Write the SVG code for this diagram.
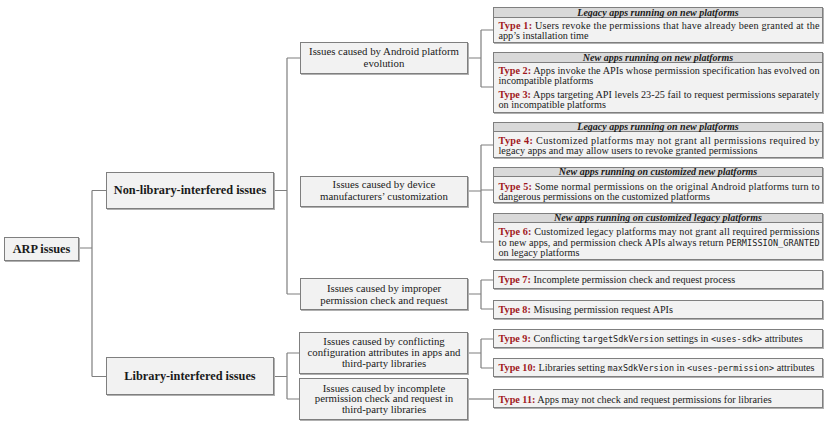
<svg xmlns="http://www.w3.org/2000/svg" width="830" height="427" viewBox="0 0 830 427">
<defs>
<style>
.box{fill:#f2f2f2;stroke:#7f7f7f;stroke-width:1}
.hdr{fill:#d9d9d9;stroke:#7f7f7f;stroke-width:1}
.sh{fill:#b0b0b0}
.c{fill:none;stroke:#7f7f7f;stroke-width:1.2}
text{font-family:"Liberation Serif","Times New Roman",serif;fill:#1a1a1a}
.b1{font-weight:bold;font-size:12.3px}
.l2{font-size:10.8px;text-anchor:middle}
.h{font-weight:bold;font-style:italic;font-size:10px;text-anchor:middle}
.t{font-size:10.2px}
.k{font-weight:bold;fill:#a0171c}
.m{font-family:"DejaVu Sans Mono","Liberation Mono",monospace;font-size:8.5px}
</style>
</defs>
<rect width="830" height="427" fill="#ffffff"/>
<g id="connectors">
<path class="c" d="M79 248H92M92 190.5V376.5M92 190.5H106M92 376.5H106"/>
<path class="c" d="M274 190.5H287M287 58V294M287 58H300M287 294H300"/>
<path class="c" d="M274 376.5H287M287 353V399M287 353H300M287 399H300"/>
<path class="c" d="M468 58H481M481 30V87M481 30H493M481 87H493"/>
<path class="c" d="M468 191H481M481 145V242M481 145H493M481 190H493M481 242H493"/>
<path class="c" d="M468 294H481M481 280V309M481 280H493M481 309H493"/>
<path class="c" d="M468 353H481M481 339V368M481 339H493M481 368H493"/>
<path class="c" d="M468 399H493"/>
</g>
<g id="arp">
<rect class="sh" x="5" y="238" width="75" height="24"/>
<rect class="box" x="4.5" y="237.5" width="74" height="23"/>
<text class="b1" x="41.5" y="252.5" text-anchor="middle" font-size="12.5">ARP issues</text>
</g>
<g id="nonlib">
<rect class="sh" x="107" y="173" width="168" height="37"/>
<rect class="box" x="106.5" y="172.5" width="167" height="36"/>
<text class="b1" x="190" y="194" text-anchor="middle">Non-library-interfered issues</text>
</g>
<g id="lib">
<rect class="sh" x="107" y="358" width="168" height="38"/>
<rect class="box" x="106.5" y="357.5" width="167" height="37"/>
<text class="b1" x="190" y="380" text-anchor="middle">Library-interfered issues</text>
</g>
<g id="android">
<rect class="sh" x="301" y="43" width="168" height="32"/>
<rect class="box" x="300.5" y="42.5" width="167" height="31"/>
<text class="l2" x="384" y="55">Issues caused by Android platform</text>
<text class="l2" x="384" y="67">evolution</text>
</g>
<g id="manuf">
<rect class="sh" x="301" y="177" width="168" height="31"/>
<rect class="box" x="300.5" y="176.5" width="167" height="30"/>
<text class="l2" x="384" y="188">Issues caused by device</text>
<text class="l2" x="384" y="200">manufacturers’ customization</text>
</g>
<g id="improper">
<rect class="sh" x="301" y="279" width="168" height="32"/>
<rect class="box" x="300.5" y="278.5" width="167" height="31"/>
<text class="l2" x="384" y="292">Issues caused by improper</text>
<text class="l2" x="384" y="303.5">permission check and request</text>
</g>
<g id="conflict">
<rect class="sh" x="300" y="333" width="169" height="42"/>
<rect class="box" x="299.5" y="332.5" width="168" height="41"/>
<text class="l2" x="384" y="345">Issues caused by conflicting</text>
<text class="l2" x="384" y="356">configuration attributes in apps and</text>
<text class="l2" x="384" y="367">third-party libraries</text>
</g>
<g id="incomplete">
<rect class="sh" x="300" y="379" width="169" height="42"/>
<rect class="box" x="299.5" y="378.5" width="168" height="41"/>
<text class="l2" x="384" y="391.5">Issues caused by incomplete</text>
<text class="l2" x="384" y="402">permission check and request in</text>
<text class="l2" x="384" y="412.5">third-party libraries</text>
</g>
<g id="type1">
<rect class="sh" x="494" y="8" width="330" height="36"/>
<rect class="box" x="493.5" y="7.5" width="329" height="35"/>
<rect class="hdr" x="493.5" y="7.5" width="329" height="10"/>
<text class="h" x="658" y="15.8">Legacy apps running on new platforms</text>
<text class="t" x="498.5" y="28.5" textLength="321" lengthAdjust="spacing"><tspan class="k">Type 1:</tspan> Users revoke the permissions that have already been granted at the</text>
<text class="t" x="498.5" y="38.5">app’s installation time</text>
</g>
<g id="type23">
<rect class="sh" x="494" y="53" width="330" height="61"/>
<rect class="box" x="493.5" y="52.5" width="329" height="60"/>
<rect class="hdr" x="493.5" y="52.5" width="329" height="10"/>
<text class="h" x="658" y="60.8">New apps running on new platforms</text>
<text class="t" x="498.5" y="74" textLength="321" lengthAdjust="spacing"><tspan class="k">Type 2:</tspan> Apps invoke the APIs whose permission specification has evolved on</text>
<text class="t" x="498.5" y="83.5">incompatible platforms</text>
<text class="t" x="498.5" y="98" textLength="321" lengthAdjust="spacing"><tspan class="k">Type 3:</tspan> Apps targeting API levels 23-25 fail to request permissions separately</text>
<text class="t" x="498.5" y="108">on incompatible platforms</text>
</g>
<g id="type4">
<rect class="sh" x="494" y="123" width="330" height="36"/>
<rect class="box" x="493.5" y="122.5" width="329" height="35"/>
<rect class="hdr" x="493.5" y="122.5" width="329" height="9"/>
<text class="h" x="658" y="130.3">Legacy apps running on new platforms</text>
<text class="t" x="498.5" y="143.5" textLength="321" lengthAdjust="spacing"><tspan class="k">Type 4:</tspan> Customized platforms may not grant all permissions required by</text>
<text class="t" x="498.5" y="154">legacy apps and may allow users to revoke granted permissions</text>
</g>
<g id="type5">
<rect class="sh" x="494" y="168" width="330" height="36"/>
<rect class="box" x="493.5" y="167.5" width="329" height="35"/>
<rect class="hdr" x="493.5" y="167.5" width="329" height="9"/>
<text class="h" x="658" y="175.3">New apps running on customized new platforms</text>
<text class="t" x="498.5" y="189.5" textLength="321" lengthAdjust="spacing"><tspan class="k">Type 5:</tspan> Some normal permissions on the original Android platforms turn to</text>
<text class="t" x="498.5" y="199.5">dangerous permissions on the customized platforms</text>
</g>
<g id="type6">
<rect class="sh" x="494" y="214" width="330" height="47"/>
<rect class="box" x="493.5" y="213.5" width="329" height="46"/>
<rect class="hdr" x="493.5" y="213.5" width="329" height="9"/>
<text class="h" x="658" y="221.3">New apps running on customized legacy platforms</text>
<text class="t" x="498.5" y="235" textLength="321" lengthAdjust="spacing"><tspan class="k">Type 6:</tspan> Customized legacy platforms may not grant all required permissions</text>
<text class="t" x="498.5" y="245.5" textLength="321" lengthAdjust="spacing">to new apps, and permission check APIs always return <tspan class="m">PERMISSION_GRANTED</tspan></text>
<text class="t" x="498.5" y="256">on legacy platforms</text>
</g>
<g id="type7">
<rect class="sh" x="494" y="271" width="330" height="19"/>
<rect class="box" x="493.5" y="270.5" width="329" height="18"/>
<text class="t" x="498.5" y="283.3"><tspan class="k">Type 7:</tspan> Incomplete permission check and request process</text>
</g>
<g id="type8">
<rect class="sh" x="494" y="301" width="330" height="19"/>
<rect class="box" x="493.5" y="300.5" width="329" height="18"/>
<text class="t" x="498.5" y="312.5"><tspan class="k">Type 8:</tspan> Misusing permission request APIs</text>
</g>
<g id="type9">
<rect class="sh" x="494" y="330" width="330" height="19"/>
<rect class="box" x="493.5" y="329.5" width="329" height="18"/>
<text class="t" x="498.5" y="342"><tspan class="k">Type 9:</tspan> Conflicting <tspan class="m">targetSdkVersion</tspan> settings in <tspan class="m">&lt;uses-sdk&gt;</tspan> attributes</text>
</g>
<g id="type10">
<rect class="sh" x="494" y="359" width="330" height="19"/>
<rect class="box" x="493.5" y="358.5" width="329" height="18"/>
<text class="t" x="498.5" y="371"><tspan class="k">Type 10:</tspan> Libraries setting <tspan class="m">maxSdkVersion</tspan> in <tspan class="m">&lt;uses-permission&gt;</tspan> attributes</text>
</g>
<g id="type11">
<rect class="sh" x="494" y="390" width="330" height="19"/>
<rect class="box" x="493.5" y="389.5" width="329" height="18"/>
<text class="t" x="498.5" y="402.5"><tspan class="k">Type 11:</tspan> Apps may not check and request permissions for libraries</text>
</g>
</svg>
